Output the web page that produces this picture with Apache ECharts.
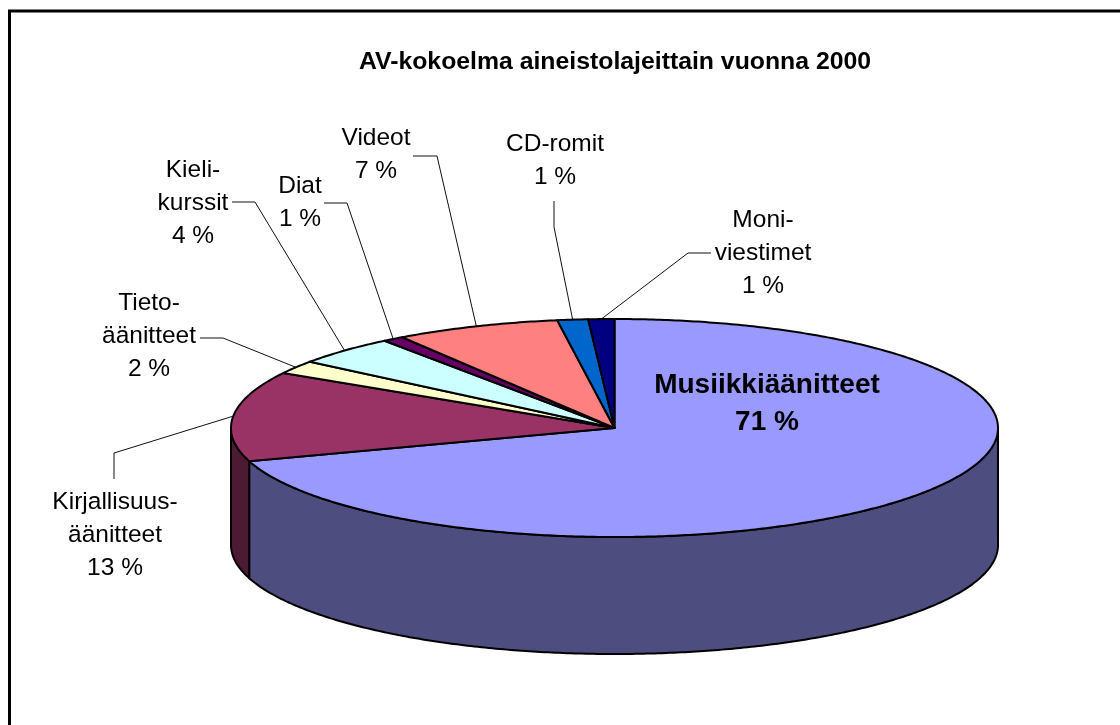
<!DOCTYPE html>
<html>
<head>
<meta charset="utf-8">
<style>html,body{margin:0;padding:0;background:#fff}#c{width:1120px;height:725px}</style>
<script src="https://cdn.jsdelivr.net/npm/echarts@6/dist/echarts.min.js"></script>
</head>
<body>
<div id="c"></div>
<script>
// ---- data, clockwise from 12 o'clock ----
const chartTitle = 'AV-kokoelma aineistolajeittain vuonna 2000';
const categories = ['Musiikkiäänitteet', 'Kirjallisuus-\näänitteet', 'Tieto-\näänitteet', 'Kieli-\nkurssit', 'Diat', 'Videot', 'CD-romit', 'Moni-\nviestimet'];
const shares = [70.5, 13.4, 2, 4.4, 0.9, 7, 1.3, 1.1];

// ---- styles ----
const topColors = ['#9999FF', '#993366', '#FFFFCC', '#CCFFFF', '#660066', '#FF8080', '#0066CC', '#000080'];
const sideColors = ['#4D4D80', '#4D1A33', '#808066', '#668080', '#330033', '#804040', '#003366', '#000040'];
const FONT = '"Liberation Sans", Arial, sans-serif';

// ---- layout ----
const pie = { cx: 614.5, cy: 428, rx: 383.5, ry: 109, depth: 117 };
const labelCenters = [[767, 404], [115, 535], [149, 336], [193, 203], [300, 203], [376, 155], [555, 161], [763, 253]];
const leaderElbows = [null, [[114, 453], [114, 479]], [[223, 338], [200, 338]], [[255, 202], [232, 202]], [[347, 203], [324, 203]], [[437, 156], [413, 156]], [[554, 227], [554, 201]], [[688, 253], [711, 253]]];

const total = shares.reduce((a, b) => a + b, 0);
const cumulative = shares.reduce((acc, v) => { acc.push(acc[acc.length - 1] + v); return acc; }, [0]);
const angleOf = v => v / total * 2 * Math.PI;
const pt = (a, dy) => [pie.cx + pie.rx * Math.sin(a), pie.cy - pie.ry * Math.cos(a) + (dy || 0)];
function arc(a0, a1, dy) {
  const n = Math.max(2, Math.ceil((a1 - a0) / 0.01));
  const out = [];
  for (let k = 0; k <= n; k++) out.push(pt(a0 + (a1 - a0) * k / n, dy));
  return out;
}

function renderSlice(params, api) {
  const i = params.dataIndex;
  const value = api.value(0);
  const a0 = angleOf(cumulative[i]);
  const a1 = a0 + angleOf(value);
  const children = [];
  // visible outer wall: the front half of the ellipse only
  const s0 = Math.max(a0, Math.PI / 2), s1 = Math.min(a1, Math.PI * 1.5);
  if (s1 > s0) {
    children.push({
      type: 'polygon', z2: 1,
      shape: { points: arc(s0, s1, 0).concat(arc(s0, s1, pie.depth).reverse()) },
      style: { fill: sideColors[i], stroke: '#000', lineWidth: 2, lineJoin: 'round' }
    });
  }
  // top face
  children.push({
    type: 'polygon', z2: 2,
    shape: { points: [[pie.cx, pie.cy]].concat(arc(a0, a1, 0)) },
    style: { fill: topColors[i], stroke: '#000', lineWidth: 2, lineJoin: 'round' }
  });
  // leader line from the slice's mid-angle rim
  if (leaderElbows[i]) {
    children.push({
      type: 'polyline', z2: 3,
      shape: { points: [pt((a0 + a1) / 2, 0)].concat(leaderElbows[i]) },
      style: { fill: 'none', stroke: '#111', lineWidth: 1 }
    });
  }
  // label
  const big = i === 0;
  children.push({
    type: 'text', z2: 4,
    style: {
      x: labelCenters[i][0], y: labelCenters[i][1],
      text: categories[i] + '\n' + Math.round(value) + ' %',
      align: 'center', verticalAlign: 'middle',
      font: (big ? 'bold 28px ' : '24.5px ') + FONT,
      lineHeight: big ? 37 : 33,
      fill: '#000'
    }
  });
  return { type: 'group', children };
}

const chart = echarts.init(document.getElementById('c'), null, { renderer: 'canvas' });
chart.setOption({
  animation: false,
  backgroundColor: '#fff',
  title: {
    text: chartTitle, left: 610, top: 45, textAlign: 'center',
    textStyle: { fontFamily: FONT, fontSize: 24.8, fontWeight: 'bold', color: '#000' }
  },
  graphic: [{
    type: 'rect', silent: true,
    shape: { x: 9.5, y: 11, width: 1300, height: 900 },
    style: { fill: 'none', stroke: '#000', lineWidth: 3 }
  }],
  series: [{
    type: 'custom',
    coordinateSystem: 'none',
    silent: true,
    clip: false,
    data: shares.map(v => [v]),
    encode: { value: 0 },
    renderItem: renderSlice
  }]
});
</script>
</body>
</html>
